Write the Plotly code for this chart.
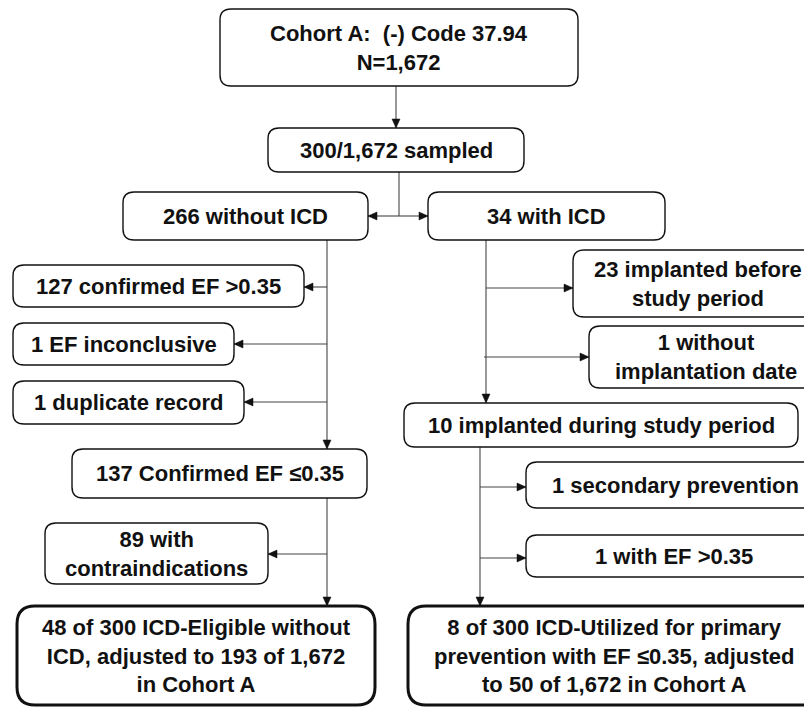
import plotly.graph_objects as go

# ---- data: box labels ----
box_labels = [
    "Cohort A:  (-) Code 37.94<br>N=1,672",
    "300/1,672 sampled",
    "266 without ICD",
    "34 with ICD",
    "127 confirmed EF >0.35",
    "1 EF inconclusive",
    "1 duplicate record",
    "137 Confirmed EF ≤0.35",
    "89 with<br>contraindications",
    "48 of 300 ICD-Eligible without<br>ICD, adjusted to 193 of 1,672<br>in Cohort A",
    "23 implanted before<br>study period",
    "1 without<br>implantation date",
    "10 implanted during study period",
    "1 secondary prevention",
    "1 with EF >0.35",
    "8 of 300 ICD-Utilized for primary<br>prevention with EF ≤0.35, adjusted<br>to 50 of 1,672 in Cohort A",
]
final_boxes = [9, 15]

# ---- layout geometry (pixels) ----
box_geom = [
    (220, 9, 578, 86),
    (268, 128, 524, 172),
    (123, 192, 368, 240),
    (428, 192, 665, 240),
    (13, 265, 304, 307),
    (13, 323, 234, 365),
    (13, 381, 244, 424),
    (72, 449, 367, 498),
    (45, 523, 268, 584),
    (17, 606, 375, 705),
    (573, 250, 822, 317),
    (589, 326, 823, 388),
    (404, 403, 798, 447),
    (526, 462, 824, 508),
    (526, 535, 822, 577),
    (408, 606, 820, 705),
]

connectors = [
    # (x0, y0, x1, y1, arrow)
    (396, 86, 396, 128, True),
    (399, 172, 399, 216, False),
    (399, 216, 368, 216, True),
    (399, 216, 428, 216, True),
    (327, 240, 327, 449, True),
    (327, 287, 304, 287, True),
    (327, 344, 234, 344, True),
    (327, 402, 244, 402, True),
    (327, 498, 327, 606, True),
    (327, 554, 268, 554, True),
    (486, 240, 486, 403, True),
    (486, 288, 573, 288, True),
    (484, 357, 589, 357, True),
    (480, 447, 480, 606, True),
    (480, 487, 526, 487, True),
    (480, 558, 526, 558, True),
]

W, H = 812, 709
OFF = 8  # page body margin offset
FONT = "Liberation Sans, Arial, sans-serif"


def rrect(x0, y0, x1, y1, r):
    return (f"M {x0+r},{y0} L {x1-r},{y0} Q {x1},{y0} {x1},{y0+r} "
            f"L {x1},{y1-r} Q {x1},{y1} {x1-r},{y1} L {x0+r},{y1} "
            f"Q {x0},{y1} {x0},{y1-r} L {x0},{y0+r} Q {x0},{y0} {x0+r},{y0} Z")


shapes = []
annotations = []

for i, (label, (x0, y0, x1, y1)) in enumerate(zip(box_labels, box_geom)):
    final = i in final_boxes
    shapes.append(dict(
        type="path", xref="x", yref="y",
        path=rrect(x0, y0, x1, y1, 18 if final else 11),
        line=dict(color="#111111", width=3 if final else 1.4),
        fillcolor="white", layer="above",
    ))
    annotations.append(dict(
        x=(x0 + x1) / 2, y=(y0 + y1) / 2, xref="x", yref="y",
        text=f"<b>{label}</b>", showarrow=False,
        font=dict(family=FONT, size=22, color="#111111"),
        align="center", xanchor="center", yanchor="middle",
    ))

L, HW = 9, 4
for (x0, y0, x1, y1, arrow) in connectors:
    shapes.append(dict(type="line", xref="x", yref="y", x0=x0, y0=y0, x1=x1, y1=y1,
                       line=dict(color="#444444", width=1.1), layer="below"))
    if arrow:
        dx, dy = x1 - x0, y1 - y0
        n = (dx * dx + dy * dy) ** 0.5
        ux, uy = dx / n, dy / n
        bx, by = x1 - L * ux, y1 - L * uy
        px, py = -uy, ux
        path = (f"M {x1},{y1} L {bx + HW*px},{by + HW*py} "
                f"L {bx - HW*px},{by - HW*py} Z")
        shapes.append(dict(type="path", xref="x", yref="y", path=path,
                           fillcolor="#111111", line=dict(color="#111111", width=0.5),
                           layer="above"))

fig = go.Figure()
fig.update_layout(
    width=W, height=H,
    margin=dict(l=0, r=0, t=0, b=0),
    paper_bgcolor="white", plot_bgcolor="white",
    xaxis=dict(range=[OFF, W + OFF], visible=False, fixedrange=True),
    yaxis=dict(range=[H + OFF, OFF], visible=False, fixedrange=True),
    shapes=shapes, annotations=annotations, showlegend=False,
)
fig.write_html("out.html")
